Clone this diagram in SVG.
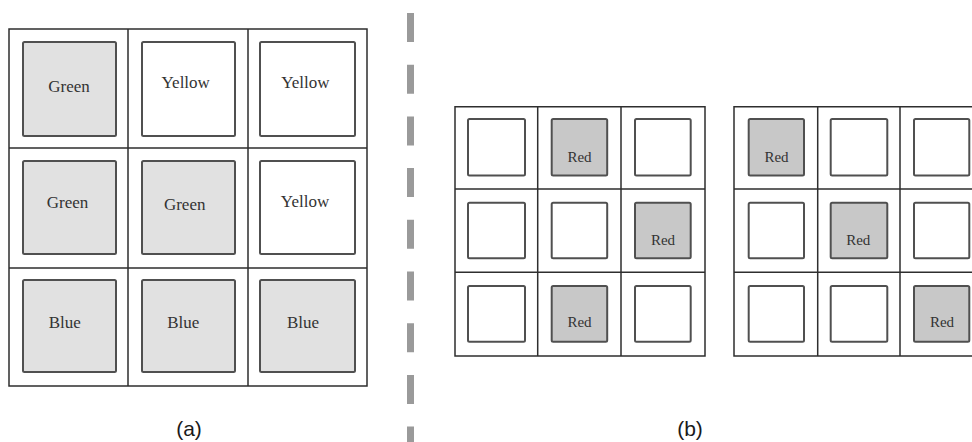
<svg xmlns="http://www.w3.org/2000/svg" width="972" height="442" viewBox="0 0 972 442">
  <style>
    .grid { fill: none; stroke: #2e2e2e; stroke-width: 1.5; }
    .box { fill: #ffffff; stroke: #505050; stroke-width: 2; }
    .lite { fill: #e1e1e1; }
    .red { fill: #c8c8c8; }
    .lbl { font-family: 'Liberation Serif', 'Times New Roman', 'DejaVu Serif', serif; fill: #333333; text-anchor: middle; }
    .big { font-size: 17px; }
    .small { font-size: 15px; }
    .cap { font-family: 'Liberation Sans', Arial, sans-serif; font-size: 21px; fill: #1a1a1a; text-anchor: middle; }
    .sep { stroke: #9a9a9a; stroke-width: 7; stroke-dasharray: 29 22.7; fill: none; }
  </style>
  <rect width="972" height="442" fill="#ffffff"/>

  <!-- (a) colour grid -->
  <g id="panel-a" font-family="Liberation Serif, serif">
    <path class="grid" d="M9 29H367V386H9Z M128 29V386 M248 29V386 M9 148H367 M9 268H367"/>
    <g id="a-r1c1"><rect class="box lite" x="23" y="42" width="93" height="94" rx="1.5"/><text class="lbl big" x="69" y="91.7">Green</text></g>
    <g id="a-r1c2"><rect class="box" x="142" y="42" width="93" height="94" rx="1.5"/><text class="lbl big" x="185.7" y="88.3">Yellow</text></g>
    <g id="a-r1c3"><rect class="box" x="260" y="42" width="95" height="94" rx="1.5"/><text class="lbl big" x="305.3" y="87.7">Yellow</text></g>
    <g id="a-r2c1"><rect class="box lite" x="23" y="161" width="93" height="93" rx="1.5"/><text class="lbl big" x="67.5" y="208.3">Green</text></g>
    <g id="a-r2c2"><rect class="box lite" x="142" y="161" width="93" height="93" rx="1.5"/><text class="lbl big" x="184.7" y="210">Green</text></g>
    <g id="a-r2c3"><rect class="box" x="260" y="161" width="95" height="93" rx="1.5"/><text class="lbl big" x="305" y="207">Yellow</text></g>
    <g id="a-r3c1"><rect class="box lite" x="23" y="280" width="93" height="92" rx="1.5"/><text class="lbl big" x="64.7" y="328">Blue</text></g>
    <g id="a-r3c2"><rect class="box lite" x="142" y="280" width="93" height="92" rx="1.5"/><text class="lbl big" x="183.3" y="328">Blue</text></g>
    <g id="a-r3c3"><rect class="box lite" x="260" y="280" width="95" height="92" rx="1.5"/><text class="lbl big" x="303" y="328">Blue</text></g>
    <text class="cap" x="189" y="435.5">(a)</text>
  </g>

  <!-- separator -->
  <g id="connectors">
    <line class="sep" x1="410.5" y1="13" x2="410.5" y2="442"/>
  </g>

  <!-- (b) first red grid -->
  <g id="panel-b1">
    <path class="grid" d="M455 106.7H705V356H455Z M537.7 106.7V356 M621 106.7V356 M455 189H705 M455 272.3H705"/>
    <g id="b1-r1c1"><rect class="box" x="468" y="119" width="57" height="56.5" rx="1.5"/></g>
    <g id="b1-r1c2"><rect class="box red" x="551.7" y="119" width="55.5" height="56.5" rx="1.5"/><text class="lbl small" x="579.5" y="161.7">Red</text></g>
    <g id="b1-r1c3"><rect class="box" x="635" y="119" width="55.7" height="56.5" rx="1.5"/></g>
    <g id="b1-r2c1"><rect class="box" x="468" y="202.7" width="57" height="55.6" rx="1.5"/></g>
    <g id="b1-r2c2"><rect class="box" x="551.7" y="202.7" width="55.5" height="55.6" rx="1.5"/></g>
    <g id="b1-r2c3"><rect class="box red" x="635" y="202.7" width="55.7" height="55.6" rx="1.5"/><text class="lbl small" x="663" y="245">Red</text></g>
    <g id="b1-r3c1"><rect class="box" x="468" y="286" width="57" height="55.7" rx="1.5"/></g>
    <g id="b1-r3c2"><rect class="box red" x="551.7" y="286" width="55.5" height="55.7" rx="1.5"/><text class="lbl small" x="579.5" y="327.3">Red</text></g>
    <g id="b1-r3c3"><rect class="box" x="635" y="286" width="55.7" height="55.7" rx="1.5"/></g>
  </g>

  <!-- (b) second red grid -->
  <g id="panel-b2">
    <path class="grid" d="M984 106.7H734V356H984 M817.7 106.7V356 M900 106.7V356 M734 189H984 M734 272.3H984"/>
    <g id="b2-r1c1"><rect class="box red" x="748.7" y="119" width="55.3" height="56.5" rx="1.5"/><text class="lbl small" x="776.5" y="161.7">Red</text></g>
    <g id="b2-r1c2"><rect class="box" x="830.7" y="119" width="56.6" height="56.5" rx="1.5"/></g>
    <g id="b2-r1c3"><rect class="box" x="914" y="119" width="55.3" height="56.5" rx="1.5"/></g>
    <g id="b2-r2c1"><rect class="box" x="748.7" y="202.7" width="55.3" height="55.6" rx="1.5"/></g>
    <g id="b2-r2c2"><rect class="box red" x="830.7" y="202.7" width="56.6" height="55.6" rx="1.5"/><text class="lbl small" x="858.3" y="245">Red</text></g>
    <g id="b2-r2c3"><rect class="box" x="914" y="202.7" width="55.3" height="55.6" rx="1.5"/></g>
    <g id="b2-r3c1"><rect class="box" x="748.7" y="286" width="55.3" height="55.7" rx="1.5"/></g>
    <g id="b2-r3c2"><rect class="box" x="830.7" y="286" width="56.6" height="55.7" rx="1.5"/></g>
    <g id="b2-r3c3"><rect class="box red" x="914" y="286" width="55.3" height="55.7" rx="1.5"/><text class="lbl small" x="942" y="327.3">Red</text></g>
  </g>

  <text class="cap" x="690" y="435.5">(b)</text>
</svg>
